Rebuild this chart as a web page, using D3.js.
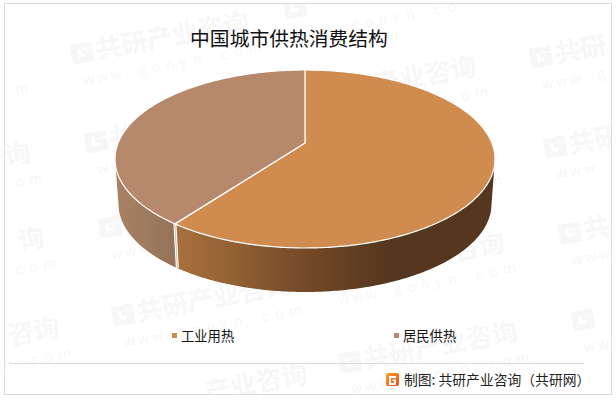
<!DOCTYPE html>
<html><head><meta charset="utf-8">
<script src="https://cdn.jsdelivr.net/npm/d3@7"></script>
<style>html,body{margin:0;padding:0;background:#fff}svg{display:block}text{font-family:"Noto Sans CJK SC","Noto Sans",sans-serif}</style>
</head><body><svg id="c" width="616" height="401"></svg>
<script>
const titleText = "中国城市供热消费结构";
const categories = ["工业用热","居民供热"];
const values = [62,38];
const colors = ["#d08b4e","#b7896c"];
const sourceText = "制图: 共研产业咨询（共研网）";
const markName = "共研产业咨询";
const markSite = "www.gonyn.com";
const markCenters = [[-165,5],[-151,93],[-137,183],[-123,268],[-108,358],[82,53],[96,142],[110,227],[123,315],[140,405],[295,8],[309,97],[323,185],[337,273],[350,362],[541,57],[555,147],[570,233],[583,320],[597,408]];

const svg = d3.select("#c");
const defs = svg.append("defs");
const W=616,H=401;
svg.append("rect").attr("width",W).attr("height",H).attr("fill","#fff");

// watermark tiles, clipped to the frame; only glyphs that land inside are written
defs.append("clipPath").attr("id","fr").append("rect").attr("x",5).attr("y",4).attr("width",606).attr("height",390);
const wm = svg.append("g").attr("clip-path","url(#fr)").attr("fill","#f7f7f7");
const rot=-10.5, cr=Math.cos(rot*Math.PI/180), sr=Math.sin(rot*Math.PI/180);
const inside=(x,y,px,py)=>{const X=x+px*cr-py*sr,Y=y+px*sr+py*cr;return X>7&&X<609&&Y>6&&Y<392;};
markCenters.forEach(([x,y])=>{
  const g = wm.append("g").attr("transform",`translate(${x},${y}) rotate(${rot})`);
  if(inside(x,y,0,0)) g.append("path").attr("d","M-11,-9Q-11,-10 -9,-10H11V-4H-4V4H3V1H-1V-3H11V10H-9Q-11,10 -11,8Z");
  Array.from(markName).forEach((ch,i)=>{
    const px=14+i*26;
    if(inside(x,y,px+13,0)) g.append("text").attr("x",px).attr("y",9).attr("font-size",26).attr("font-weight",700).text(ch);
  });
  Array.from(markSite).forEach((ch,i)=>{
    const px=-4+i*14;
    if(inside(x,y,px+4,27)) g.append("text").attr("x",px).attr("y",32).attr("font-size",14).attr("text-anchor","start").text(ch);
  });
});

// frame
svg.append("rect").attr("x",4.5).attr("y",3.5).attr("width",607).attr("height",391).attr("fill","none").attr("stroke","#d9d9d9").attr("stroke-width",1);

// pie geometry
const pieGen = d3.pie().value(d=>d).sort(null);
const arcs = pieGen(values);
const topE = {cx:305,cy:159,rx:190,ry:89};
const botE = {cx:305,cy:204,rx:186.5,ry:88};
const apex = [305,143];
const on = (e,t)=>[e.cx+e.rx*Math.sin(t), e.cy-e.ry*Math.cos(t)];
const line = d3.line();
const samples = (a0,a1,n=160)=>d3.range(n+1).map(i=>a0+(a1-a0)*i/n);

// gradients
const xs = d3.scaleLinear().domain([0,W]);
function grad(id,stops){
  const g = defs.append("linearGradient").attr("id",id).attr("gradientUnits","userSpaceOnUse").attr("x1",0).attr("x2",W).attr("y1",0).attr("y2",0);
  stops.forEach(([x,c])=>g.append("stop").attr("offset",xs(x)).attr("stop-color",c));
}
grad("w0",[[178,"#a86f3c"],[240,"#8f5f33"],[300,"#764b29"],[390,"#55361e"],[616,"#55361e"]]);
grad("w1",[[114,"#a98265"],[178,"#937257"]]);

// walls: only the part facing the viewer
arcs.forEach((d,i)=>{
  const a0=Math.max(d.startAngle,Math.PI/2), a1=Math.min(d.endAngle,Math.PI*1.5);
  const t=samples(a0,a1), b=samples(a1,a0);
  const pts=t.map(a=>on(topE,a)).concat(b.map(a=>on(botE,a)));
  svg.append("path").attr("d",line(pts)+"Z").attr("fill",`url(#w${i})`).attr("stroke","none");
});
// seam on the wall
const s=arcs[0].endAngle;
svg.append("path").attr("d",line([on(topE,s),on(botE,s)])).attr("stroke","#fff").attr("stroke-width",3).attr("fill","none");
svg.append("path").attr("d",line([on(topE,s),on(botE,s)])).attr("stroke","#b9a596").attr("stroke-width",0.7).attr("fill","none");

// top faces
arcs.forEach((d,i)=>{
  const pts=[apex].concat(samples(d.startAngle,d.endAngle,240).map(a=>on(topE,a)));
  svg.append("path").attr("d",line(pts)+"Z").attr("fill",colors[i]).attr("stroke","#fff").attr("stroke-width",1.2).attr("stroke-linejoin","round");
});

// title
svg.append("text").attr("x",289).attr("y",46).attr("text-anchor","middle").attr("font-size",19.8).attr("fill","#111").text(titleText);

// legend
const legX=[172,394];
categories.forEach((c,i)=>{
  svg.append("rect").attr("x",legX[i]).attr("y",333).attr("width",5).attr("height",5).attr("fill",colors[i]);
  svg.append("text").attr("x",legX[i]+9).attr("y",341).attr("font-size",13.3).attr("fill","#111").text(c);
});

// footer
svg.append("line").attr("x1",9).attr("x2",584).attr("y1",363.5).attr("y2",363.5).attr("stroke","#d9d9d9");
const lg=defs.append("linearGradient").attr("id","lg").attr("x1",0).attr("x2",1).attr("y1",0).attr("y2",1);
lg.append("stop").attr("offset",0).attr("stop-color","#f7a01e");
lg.append("stop").attr("offset",1).attr("stop-color","#ee4c22");
svg.append("rect").attr("x",386).attr("y",373).attr("width",13).attr("height",13).attr("rx",2).attr("fill","url(#lg)");
svg.append("path").attr("d","M389,376H396V378H391V383H394V381H392.5V379.5H396V385H389Z").attr("fill","#fff");
svg.append("text").attr("x",404).attr("y",385).attr("font-size",13.8).attr("fill","#222").text(sourceText);
</script></body></html>
